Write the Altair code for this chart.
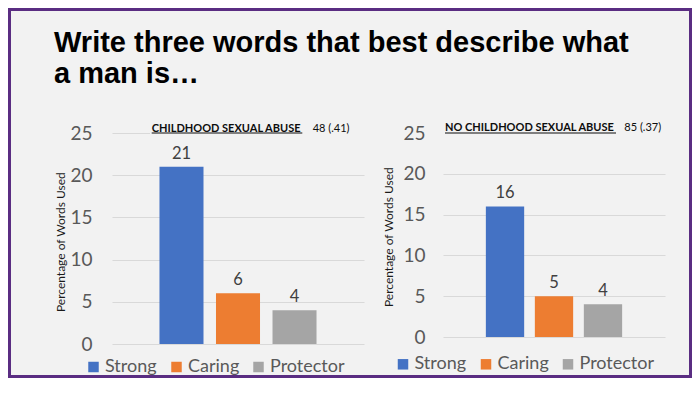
import altair as alt
import pandas as pd

# ---- data ----
categories = ["Strong", "Caring", "Protector"]
colors = ["#4472C4", "#ED7D31", "#A5A5A5"]
csa_values = [21, 6, 4]
no_csa_values = [16, 5, 4]
title_lines = ["Write three words that best describe what", "a man is\u2026"]
left_heading = "CHILDHOOD SEXUAL ABUSE"
left_n = "48 (.41)"
right_heading = "NO CHILDHOOD SEXUAL ABUSE"
right_n = "85 (.37)"
y_title = "Percentage of Words Used"
y_ticks = [0, 5, 10, 15, 20, 25]

BG = "#F2F2F2"
PURPLE = "#5A2D82"
FONT = "Lato"

one_row = alt.InlineData(values=[{"a": 1}])


def panel(values, heading, n_text, width, height, pi, po, label_pad, tx, ty,
          leg_x, leg_y, head_x, head_y, n_x, ul_x2, cover_x, extra=None):
    df = pd.DataFrame({"word": categories, "pct": values})
    x = alt.X("word:N", sort=categories, axis=None,
              scale=alt.Scale(paddingInner=pi, paddingOuter=po))
    y = alt.Y("pct:Q", scale=alt.Scale(domain=[0, 25], nice=False),
              axis=alt.Axis(values=y_ticks, title=y_title, grid=True,
                            gridColor="#D9D9D9", gridWidth=1, domain=False,
                            ticks=False, labelPadding=label_pad,
                            labelFontSize=19, labelColor="#595959",
                            labelFont=FONT, titleFont=FONT, titleFontSize=12,
                            titleFontWeight="normal", titleColor="#1A1A1A",
                            titleAngle=270, titleBaseline="middle",
                            titleAlign="center", titleX=tx, titleY=ty))
    color = alt.Color("word:N", sort=categories,
                      scale=alt.Scale(domain=categories, range=colors),
                      legend=alt.Legend(title=None, orient="none",
                                        direction="horizontal",
                                        legendX=leg_x, legendY=leg_y,
                                        symbolType="square", symbolSize=110,
                                        symbolStrokeWidth=0,
                                        labelFont=FONT, labelFontSize=18,
                                        labelColor="#595959", labelOffset=2.5,
                                        columnPadding=10, padding=0))
    base = alt.Chart(df)
    bars = base.mark_bar().encode(x=x, y=y, color=color)
    labels = base.mark_text(baseline="alphabetic", dy=-8, font=FONT,
                            fontSize=16.5, color="#404040").encode(
        x=x, y=y, text=alt.Text("pct:Q"))
    cover = alt.Chart(one_row).mark_rect(color=BG).encode(
        x=alt.value(cover_x), x2=alt.value(width + 1),
        y=alt.value(-1.6), y2=alt.value(1.6))
    underline = alt.Chart(one_row).mark_rule(color="#0D0D0D", strokeWidth=1).encode(
        x=alt.value(head_x), x2=alt.value(ul_x2), y=alt.value(0))
    head = alt.Chart(one_row).mark_text(
        text=heading, align="left", baseline="middle", font=FONT,
        fontSize=11, fontWeight="bold", color="#0D0D0D").encode(
        x=alt.value(head_x), y=alt.value(head_y))
    ntxt = alt.Chart(one_row).mark_text(
        text=n_text, align="left", baseline="middle", font=FONT,
        fontSize=11, color="#0D0D0D").encode(
        x=alt.value(n_x), y=alt.value(head_y))
    layers = []
    if extra is not None:
        layers.extend(extra)
    layers.extend([bars, labels, cover, underline, head, ntxt])
    return alt.layer(*layers).properties(width=width, height=height)


frame = alt.Chart(one_row).mark_rect(fillOpacity=0, stroke=PURPLE, strokeWidth=3).encode(
    x=alt.value(-102.5), x2=alt.value(578.5), y=alt.value(-123.5), y2=alt.value(243.5))
title = alt.Chart(one_row).mark_text(
    text=title_lines, align="left", baseline="alphabetic", lineHeight=31,
    font="Liberation Sans", fontSize=29, fontWeight="bold", color="#000000").encode(
    x=alt.value(-58), y=alt.value(-81.3))

left = panel(csa_values, left_heading, left_n, 252, 211, 0.221, 0.84, 20,
             -51.3, 108.7, -27.5, 225, 39.7, -4.5, 200.7, 190.3, 38,
             extra=[frame, title])
right = panel(no_csa_values, right_heading, right_n, 222, 204, 0.218, 0.875, 18,
              -54.7, 103.7, -49, 222.3, 2, -5, 181.3, 173, 0)

chart = alt.hconcat(left, right, spacing=79, bounds="flush").resolve_scale(
    color="independent").resolve_legend(color="independent").configure(
    background=BG, padding=0).configure_view(stroke=None)

chart.save("out.html", embed_options={"renderer": "svg", "actions": False})
